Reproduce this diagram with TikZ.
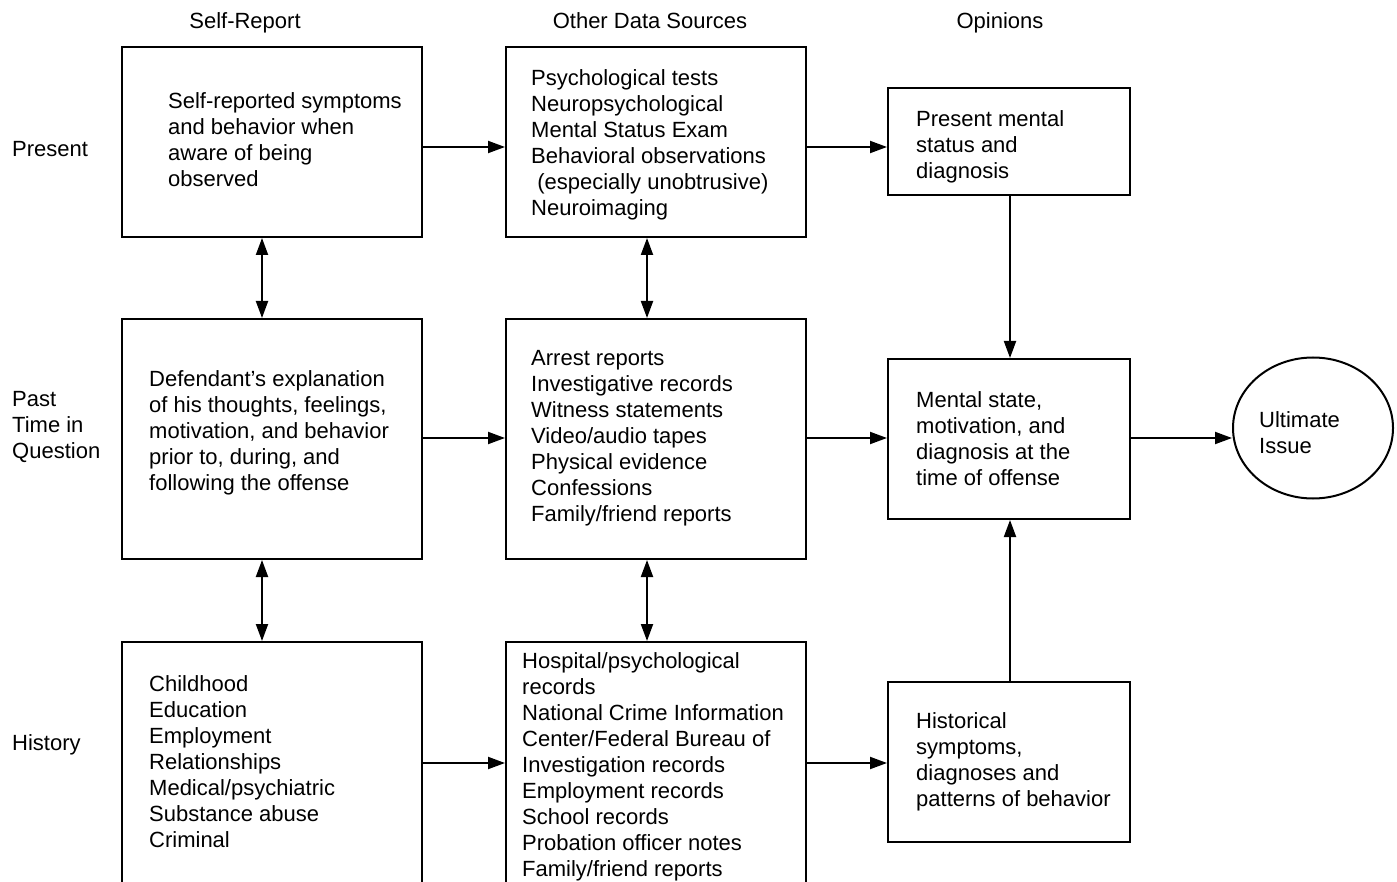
\documentclass[tikz,border=0pt]{standalone}
\usepackage{fontspec}
\setmainfont{Liberation Sans}
\usetikzlibrary{arrows.meta,shapes.geometric}
\begin{document}
\begin{tikzpicture}[x=1pt,y=-1pt,
  box/.style={draw, line width=2pt, inner sep=0pt},
  txt/.style={align=left, inner sep=0pt, anchor=west, font=\fontsize{22}{26}\selectfont},
  hdr/.style={inner sep=0pt, anchor=base, font=\fontsize{22}{26}\selectfont},
  arr/.style={line width=2pt, -{Triangle[length=17pt,width=12pt]}},
  darr/.style={line width=2pt, {Triangle[length=17pt,width=12pt]}-{Triangle[length=17pt,width=12pt]}}]
\clip (0,0) rectangle (1397,882);
\fill[white] (0,0) rectangle (1397,882);

% headers
\node[hdr] (h1) at (245,29) {Self-Report};
\node[hdr] (h2) at (650,29) {Other Data Sources};
\node[hdr] (h3) at (1000,29) {Opinions};
\node[txt] (r1) at (12,149) {Present};
\node[txt] (r2) at (12,427.5) {Past\\Time in\\Question};
\node[txt] (r3) at (12,745) {History};

% boxes
\node[box, minimum width=300pt, minimum height=190pt] (a1) at (272,142) {};
\node[box, minimum width=300pt, minimum height=190pt] (b1) at (656,142) {};
\node[box, minimum width=242pt, minimum height=107pt] (c1) at (1009,141.5) {};
\node[box, minimum width=300pt, minimum height=240pt] (a2) at (272,439) {};
\node[box, minimum width=300pt, minimum height=240pt] (b2) at (656,439) {};
\node[box, minimum width=242pt, minimum height=160pt] (c2) at (1009,439) {};
\node[box, minimum width=300pt, minimum height=278pt] (a3) at (272,781) {};
\node[box, minimum width=300pt, minimum height=278pt] (b3) at (656,781) {};
\node[box, minimum width=242pt, minimum height=160pt] (c3) at (1009,762) {};
\node[draw, ellipse, line width=2pt, minimum width=160pt, minimum height=141pt, inner sep=0pt] (e) at (1313,428) {};

% texts
\node[txt] (ta1) at (168,140) {Self-reported symptoms\\and behavior when\\aware of being\\observed};
\node[txt] (tb1) at (531,145) {Psychological tests\\Neuropsychological\\Mental Status Exam\\Behavioral observations\\\ (especially unobtrusive)\\Neuroimaging};
\node[txt] (tc1) at (916,146.5) {Present mental\\status and\\diagnosis};
\node[txt] (ta2) at (149,433) {Defendant's explanation\\of his thoughts, feelings,\\motivation, and behavior\\prior to, during, and\\following the offense};
\node[txt] (tb2) at (531,438) {Arrest reports\\Investigative records\\Witness statements\\Video/audio tapes\\Physical evidence\\Confessions\\Family/friend reports};
\node[txt] (tc2) at (916,439) {Mental state,\\motivation, and\\diagnosis at the\\time of offense};
\node[txt] (te) at (1259,433) {Ultimate\\Issue};
\node[txt] (ta3) at (149,762) {Childhood\\Education\\Employment\\Relationships\\Medical/psychiatric\\Substance abuse\\Criminal};
\node[txt] (tb3) at (522,767) {Hospital/psychological\\records\\National Crime Information\\Center/Federal Bureau of\\Investigation records\\Employment records\\School records\\Probation officer notes\\Family/friend reports};
\node[txt] (tc3) at (916,762) {Historical\\symptoms,\\diagnoses and\\patterns of behavior};

% horizontal arrows
\draw[arr] (a1.east |- 0,147) -- (b1.west |- 0,147);
\draw[arr] (b1.east |- 0,147) -- (c1.west |- 0,147);
\draw[arr] (a2.east |- 0,438) -- (b2.west |- 0,438);
\draw[arr] (b2.east |- 0,438) -- (c2.west |- 0,438);
\draw[arr] (c2.east |- 0,438) -- (e.west |- 0,438);
\draw[arr] (a3.east |- 0,763) -- (b3.west |- 0,763);
\draw[arr] (b3.east |- 0,763) -- (c3.west |- 0,763);

% vertical arrows
\draw[darr] (a1.south -| 262,0) -- (a2.north -| 262,0);
\draw[darr] (a2.south -| 262,0) -- (a3.north -| 262,0);
\draw[darr] (b1.south -| 647,0) -- (b2.north -| 647,0);
\draw[darr] (b2.south -| 647,0) -- (b3.north -| 647,0);
\draw[arr] (c1.south -| 1010,0) -- (c2.north -| 1010,0);
\draw[arr] (c3.north -| 1010,0) -- (c2.south -| 1010,0);
\end{tikzpicture}
\end{document}
